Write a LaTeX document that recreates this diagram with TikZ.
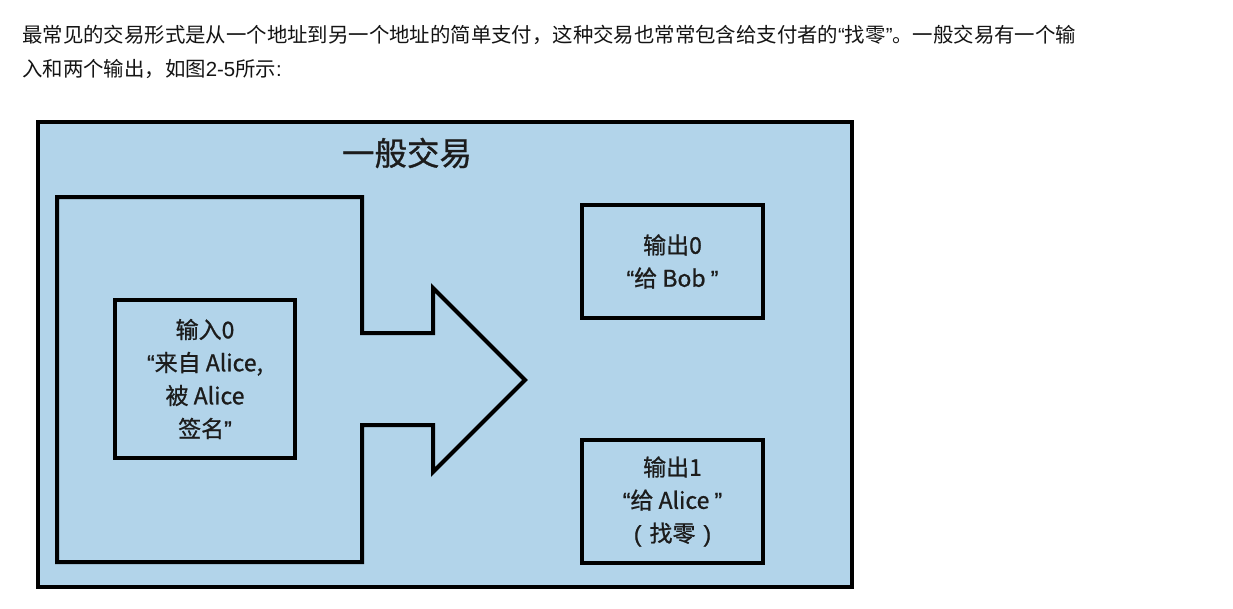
\documentclass[tikz,border=0pt]{standalone}
\usepackage{fontspec}
\setmainfont{Noto Sans CJK SC}
\newfontfamily\latinfont{Liberation Sans}
\newfontfamily\diagfont[FakeBold=0.9]{Noto Sans CJK SC}
\newfontfamily\diaglatin[FakeBold=0.9]{Liberation Sans}
\newcommand{\myoq}{{\diaglatin “}}
\newcommand{\mycq}{{\diaglatin ”}}
\definecolor{panel}{RGB}{178,212,234}
\definecolor{ink}{RGB}{28,28,28}
\definecolor{bodytext}{RGB}{20,20,20}
\tikzset{
  frame/.style={draw=black,line width=4pt,fill=panel},
  arrowshape/.style={draw=black,line width=4pt,fill=panel,line join=miter},
  boxnode/.style={draw=black,line width=4.5pt,fill=panel,inner sep=0pt,align=center,
    text=ink,font=\diagfont\fontsize{23}{33}\selectfont},
  para/.style={anchor=west,inner sep=0pt,text=bodytext,font=\fontsize{20.4}{24}\selectfont},
  title/.style={inner sep=0pt,text=ink,font=\diagfont\fontsize{32.5}{36}\selectfont}
}
\begin{document}
\begin{tikzpicture}[x=1pt,y=-1pt]
\useasboundingbox[fill=white] (0,0) rectangle (1233,608);
% paragraph
\node[para] (line1) at (22,35) {最常见的交易形式是从一个地址到另一个地址的简单支付，这种交易也常常包含给支付者的{\latinfont “}找零{\latinfont ”}。一般交易有一个输};
\node[para] (line2) at (22,69) {入和两个输出，如图{\latinfont 2-5}所示{\latinfont :}};
% outer frame
\draw[frame] (38,122) rectangle (852,587);
\node[title] (ttl) at (407,153) {一般交易};
% big arrow
\draw[arrowshape] (57,197) -- (362,197) -- (362,333) -- (433,333) -- (433,288)
  -- (525,380) -- (433,472) -- (433,425) -- (362,425) -- (362,562) -- (57,562) -- cycle;
% boxes
\node[boxnode,minimum width=180pt,minimum height=158pt] (in0) at (205,379)
  {输入0\\\myoq 来自 Alice,\\被 Alice\\签名\mycq};
\node[boxnode,minimum width=181pt,minimum height=113pt] (out0) at (672.5,261.5)
  {输出0\\\myoq 给 Bob \mycq};
\node[boxnode,minimum width=181pt,minimum height=123pt] (out1) at (672.5,501.5)
  {输出1\\\myoq 给 Alice \mycq\\{\diaglatin (}\hspace{8pt}找零\hspace{8pt}{\diaglatin )}};
\end{tikzpicture}
\end{document}
